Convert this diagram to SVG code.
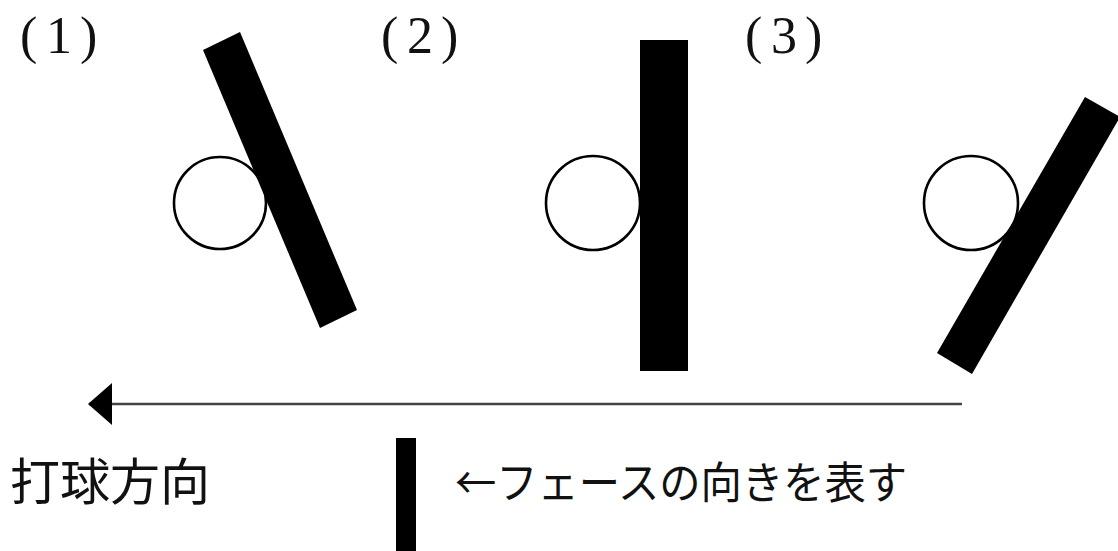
<svg xmlns="http://www.w3.org/2000/svg" width="1118" height="551" viewBox="0 0 1118 551">
<style>
.face{fill:#000;}
.ball{fill:#fff;stroke:#000;stroke-width:2.6;}
.lbl{font-family:"Liberation Serif",serif;font-size:52px;fill:#111;}
.txt{font-family:"Noto Sans CJK JP","Noto Sans CJK SC",sans-serif;fill:#111;}
.conn{stroke:#444;stroke-width:2.5;fill:none;}
</style>
<defs>
<marker id="ah" markerUnits="userSpaceOnUse" markerWidth="26" markerHeight="44" refX="23" refY="22" orient="auto" viewBox="0 0 26 44">
<polygon points="0,1 24,22 0,43" fill="#000"/>
</marker>
</defs>
<g id="case1">
<text class="lbl" x="20 46 80" y="53">(1)</text>
<circle class="ball" cx="220" cy="203" r="46"/>
<polygon class="face" points="203,50 240,32 357,310 320,328"/>
</g>
<g id="case2">
<text class="lbl" x="381 407 441" y="53">(2)</text>
<circle class="ball" cx="593" cy="203" r="47"/>
<rect class="face" x="640" y="40" width="48" height="331"/>
</g>
<g id="case3">
<text class="lbl" x="745 771 805" y="53">(3)</text>
<circle class="ball" cx="971" cy="203" r="47"/>
<polygon class="face" points="937,353 1085,97 1120,117 972,374"/>
</g>
<g id="connectors">
<line class="conn" x1="962" y1="404" x2="89" y2="404" marker-end="url(#ah)"/>
</g>
<g id="direction-label">
<text class="txt" x="10" y="500" font-size="50">打球方向</text>
</g>
<g id="legend">
<rect class="face" x="396" y="438" width="20" height="113"/>
<text class="txt" x="455" y="499" font-size="44" textLength="452" lengthAdjust="spacingAndGlyphs">←フェースの向きを表す</text>
</g>
</svg>
